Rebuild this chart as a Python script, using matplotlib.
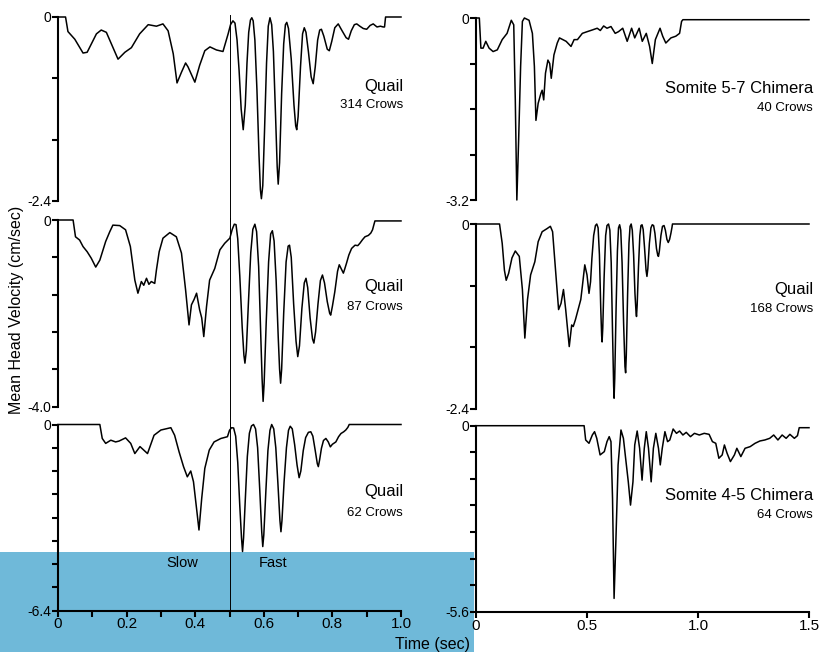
import numpy as np
import matplotlib.pyplot as plt
from matplotlib.patches import Rectangle

plt.rcParams['font.family'] = ['Liberation Sans', 'DejaVu Sans']

# ---- traces: time (sec), mean head velocity (cm/sec) ----
# left column, quail, 314 crows
q314_t = [0, 0.022, 0.029, 0.049, 0.073, 0.085, 0.112, 0.126, 0.141, 0.175, 0.195, 0.214,
          0.238, 0.263, 0.287, 0.306, 0.321, 0.336, 0.347, 0.360, 0.372, 0.379, 0.399, 0.413,
          0.428, 0.443, 0.462, 0.481, 0.496, 0.503, 0.510, 0.516, 0.522, 0.528, 0.534, 0.540,
          0.546, 0.551, 0.556, 0.561, 0.565, 0.569, 0.574, 0.580, 0.586, 0.590, 0.593, 0.597,
          0.602, 0.608, 0.613, 0.618, 0.623, 0.628, 0.634, 0.639, 0.642, 0.646, 0.652, 0.658,
          0.663, 0.667, 0.672, 0.680, 0.688, 0.693, 0.696, 0.700, 0.707, 0.713, 0.718, 0.723,
          0.730, 0.738, 0.744, 0.750, 0.757, 0.763, 0.768, 0.775, 0.785, 0.791, 0.798, 0.807,
          0.817, 0.827, 0.840, 0.847, 0.855, 0.864, 0.871, 0.880, 0.890, 0.900, 0.910, 0.919,
          0.930, 0.940, 0.948, 0.952, 0.955, 1.0]
q314_v = [0, 0, -0.19, -0.29, -0.47, -0.46, -0.22, -0.17, -0.20, -0.55, -0.46, -0.40,
          -0.22, -0.10, -0.12, -0.09, -0.18, -0.48, -0.86, -0.72, -0.60, -0.65, -0.85, -0.63,
          -0.44, -0.39, -0.43, -0.45, -0.22, -0.10, -0.05, -0.08, -0.30, -0.70, -1.20, -1.47,
          -1.15, -0.60, -0.20, -0.04, -0.01, -0.05, -0.30, -0.95, -1.80, -2.25, -2.37, -2.20,
          -1.50, -0.60, -0.12, -0.01, -0.10, -0.45, -1.25, -1.95, -2.18, -1.90, -1.00, -0.35,
          -0.10, -0.07, -0.15, -0.55, -1.15, -1.42, -1.47, -1.30, -0.65, -0.22, -0.14, -0.20,
          -0.45, -0.78, -0.87, -0.65, -0.30, -0.17, -0.16, -0.25, -0.42, -0.44, -0.32, -0.14,
          -0.09, -0.17, -0.27, -0.29, -0.18, -0.10, -0.09, -0.12, -0.15, -0.16, -0.11, -0.09,
          -0.13, -0.12, -0.13, -0.13, 0, 0]

# left column, quail, 87 crows
q87_t = [0, 0.044, 0.051, 0.063, 0.073, 0.085, 0.097, 0.110, 0.122, 0.139, 0.151, 0.160,
         0.180, 0.197, 0.211, 0.224, 0.233, 0.243, 0.250, 0.258, 0.265, 0.272, 0.282, 0.287,
         0.295, 0.306, 0.326, 0.345, 0.360, 0.372, 0.382, 0.389, 0.397, 0.404, 0.413, 0.419,
         0.425, 0.433, 0.442, 0.457, 0.472, 0.486, 0.501, 0.508, 0.514, 0.519, 0.524, 0.530,
         0.537, 0.542, 0.545, 0.549, 0.555, 0.562, 0.568, 0.574, 0.579, 0.585, 0.590, 0.595,
         0.598, 0.601, 0.607, 0.614, 0.620, 0.625, 0.630, 0.636, 0.642, 0.646, 0.649, 0.652,
         0.658, 0.665, 0.671, 0.675, 0.680, 0.687, 0.694, 0.699, 0.704, 0.711, 0.718, 0.723,
         0.728, 0.735, 0.742, 0.746, 0.751, 0.758, 0.765, 0.771, 0.777, 0.785, 0.792, 0.795,
         0.800, 0.807, 0.815, 0.820, 0.826, 0.832, 0.836, 0.841, 0.848, 0.856, 0.866, 0.874,
         0.880, 0.888, 0.895, 0.905, 0.912, 0.917, 0.921, 0.924, 1.0]
q87_v = [0, 0, -0.36, -0.43, -0.57, -0.68, -0.82, -1.01, -0.86, -0.46, -0.25, -0.11,
         -0.12, -0.21, -0.57, -1.29, -1.57, -1.32, -1.40, -1.25, -1.38, -1.32, -1.36, -1.07,
         -0.68, -0.39, -0.27, -0.36, -0.71, -1.50, -2.25, -1.82, -1.70, -1.57, -1.93, -2.10,
         -2.50, -1.86, -1.29, -1.04, -0.64, -0.50, -0.39, -0.20, -0.09, -0.10, -0.40, -1.20,
         -2.30, -2.90, -3.07, -2.80, -1.80, -0.70, -0.20, -0.09, -0.25, -1.00, -2.20, -3.40,
         -3.89, -3.50, -2.20, -0.90, -0.30, -0.23, -0.45, -1.30, -2.50, -3.20, -3.50, -3.20,
         -2.00, -0.90, -0.56, -0.54, -0.80, -1.80, -2.60, -2.93, -2.70, -1.90, -1.35, -1.25,
         -1.45, -2.10, -2.55, -2.64, -2.40, -1.80, -1.30, -1.18, -1.35, -1.75, -2.00, -2.04,
         -1.85, -1.54, -1.10, -0.96, -1.05, -1.14, -1.05, -0.93, -0.75, -0.61, -0.54, -0.55,
         -0.50, -0.42, -0.36, -0.33, -0.28, -0.21, -0.10, -0.02, -0.02]

# left column, quail, 62 crows
q62_t = [0, 0.122, 0.129, 0.139, 0.154, 0.168, 0.178, 0.197, 0.212, 0.224, 0.239, 0.261,
         0.280, 0.300, 0.329, 0.340, 0.353, 0.366, 0.377, 0.387, 0.395, 0.405, 0.411, 0.419,
         0.428, 0.441, 0.455, 0.475, 0.494, 0.500, 0.506, 0.512, 0.518, 0.524, 0.530, 0.535,
         0.538, 0.541, 0.546, 0.552, 0.558, 0.564, 0.570, 0.576, 0.582, 0.588, 0.594, 0.597,
         0.600, 0.606, 0.612, 0.618, 0.623, 0.629, 0.635, 0.641, 0.647, 0.650, 0.653, 0.659,
         0.666, 0.672, 0.677, 0.683, 0.690, 0.697, 0.703, 0.708, 0.715, 0.722, 0.730, 0.737,
         0.743, 0.750, 0.756, 0.759, 0.763, 0.768, 0.774, 0.781, 0.788, 0.794, 0.800, 0.810,
         0.818, 0.825, 0.833, 0.839, 0.845, 0.849, 1.0]
q62_v = [0, 0, -0.48, -0.65, -0.54, -0.60, -0.57, -0.46, -0.65, -1.00, -0.76, -1.00,
         -0.37, -0.19, -0.11, -0.37, -0.94, -1.45, -1.80, -1.60, -1.97, -3.00, -3.63, -2.54,
         -1.51, -0.88, -0.60, -0.48, -0.42, -0.20, -0.11, -0.12, -0.40, -1.30, -2.80, -3.90,
         -4.37, -3.90, -2.60, -1.10, -0.30, -0.05, 0, -0.15, -0.80, -2.20, -3.70, -4.20,
         -3.80, -2.30, -0.90, -0.20, 0, -0.15, -0.80, -2.00, -3.30, -3.69, -3.30, -2.00,
         -0.80, -0.20, -0.06, -0.15, -0.70, -1.40, -1.83, -1.60, -0.90, -0.45, -0.27, -0.25,
         -0.40, -0.90, -1.35, -1.45, -1.20, -0.82, -0.55, -0.48, -0.60, -0.77, -0.68, -0.60,
         -0.42, -0.31, -0.25, -0.19, -0.10, 0, 0]

# right column, somite 5-7 chimera, 40 crows
c40_t = [0, 0.015, 0.022, 0.032, 0.044, 0.059, 0.077, 0.096, 0.118, 0.140, 0.159, 0.170,
         0.177, 0.184, 0.192, 0.201, 0.209, 0.218, 0.239, 0.254, 0.263, 0.270, 0.280, 0.292,
         0.298, 0.305, 0.313, 0.324, 0.332, 0.339, 0.351, 0.366, 0.376, 0.391, 0.406, 0.428,
         0.442, 0.457, 0.479, 0.501, 0.524, 0.546, 0.560, 0.575, 0.590, 0.608, 0.627, 0.642,
         0.661, 0.681, 0.701, 0.715, 0.735, 0.749, 0.767, 0.782, 0.794, 0.808, 0.829, 0.841,
         0.855, 0.878, 0.900, 0.917, 0.926, 0.932, 1.5]
c40_v = [0, 0, -0.53, -0.53, -0.41, -0.53, -0.59, -0.56, -0.38, -0.27, -0.04, -0.12,
         -1.44, -3.20, -2.15, -0.85, -0.06, 0, -0.04, -0.27, -0.85, -1.80, -1.50, -1.33,
         -1.27, -1.44, -0.97, -0.74, -0.80, -1.06, -0.65, -0.44, -0.35, -0.38, -0.41, -0.50,
         -0.38, -0.38, -0.27, -0.24, -0.21, -0.18, -0.22, -0.14, -0.18, -0.15, -0.27, -0.24,
         -0.18, -0.41, -0.18, -0.35, -0.18, -0.41, -0.27, -0.50, -0.80, -0.38, -0.18, -0.32,
         -0.44, -0.35, -0.32, -0.27, -0.06, -0.03, -0.03]

# right column, quail, 168 crows
q168_t = [0, 0.106, 0.118, 0.128, 0.136, 0.147, 0.162, 0.177, 0.195, 0.209, 0.220, 0.232,
          0.246, 0.265, 0.280, 0.298, 0.320, 0.335, 0.345, 0.357, 0.372, 0.383, 0.394, 0.404,
          0.420, 0.431, 0.438, 0.448, 0.460, 0.472, 0.479, 0.490, 0.500, 0.509, 0.516, 0.522,
          0.530, 0.538, 0.544, 0.550, 0.556, 0.562, 0.566, 0.568, 0.571, 0.577, 0.584, 0.590,
          0.597, 0.603, 0.609, 0.615, 0.620, 0.622, 0.625, 0.631, 0.637, 0.642, 0.647, 0.652,
          0.658, 0.665, 0.671, 0.674, 0.677, 0.683, 0.689, 0.694, 0.699, 0.704, 0.710, 0.716,
          0.721, 0.723, 0.726, 0.732, 0.738, 0.743, 0.748, 0.753, 0.759, 0.766, 0.770, 0.774,
          0.781, 0.788, 0.794, 0.800, 0.806, 0.813, 0.819, 0.822, 0.826, 0.833, 0.840, 0.847,
          0.853, 0.860, 0.866, 0.872, 0.878, 0.883, 0.885, 1.5]
q168_v = [0, 0, -0.25, -0.60, -0.73, -0.64, -0.44, -0.35, -0.42, -0.85, -1.48, -0.98,
          -0.66, -0.49, -0.23, -0.10, -0.06, -0.03, -0.10, -0.55, -1.11, -1.03, -0.85, -1.11,
          -1.59, -1.31, -1.33, -1.24, -1.11, -0.98, -0.81, -0.53, -0.66, -0.90, -0.75, -0.45,
          -0.15, -0.02, 0, -0.05, -0.40, -1.10, -1.45, -1.53, -1.35, -0.70, -0.15, -0.02,
          0, -0.08, -0.50, -1.40, -2.10, -2.26, -2.00, -1.10, -0.35, -0.05, -0.01, -0.08,
          -0.50, -1.30, -1.85, -1.93, -1.70, -0.90, -0.25, -0.03, 0, -0.08, -0.40, -0.90,
          -1.15, -1.20, -1.05, -0.55, -0.15, -0.02, -0.01, -0.07, -0.30, -0.60, -0.68, -0.58,
          -0.25, -0.05, -0.01, -0.02, -0.12, -0.32, -0.41, -0.42, -0.35, -0.15, -0.03, -0.02,
          -0.08, -0.20, -0.24, -0.20, -0.12, -0.04, 0, 0]

# right column, somite 4-5 chimera, 64 crows
c64_t = [0, 0.487, 0.494, 0.509, 0.524, 0.534, 0.544, 0.559, 0.578, 0.590, 0.600, 0.608,
         0.615, 0.622, 0.630, 0.640, 0.653, 0.664, 0.674, 0.686, 0.696, 0.707, 0.715, 0.726,
         0.737, 0.748, 0.758, 0.767, 0.777, 0.789, 0.799, 0.810, 0.822, 0.830, 0.839, 0.851,
         0.863, 0.873, 0.888, 0.903, 0.917, 0.932, 0.947, 0.966, 0.984, 1.006, 1.028, 1.050,
         1.065, 1.080, 1.094, 1.109, 1.119, 1.131, 1.146, 1.164, 1.175, 1.193, 1.212, 1.235,
         1.257, 1.279, 1.301, 1.323, 1.341, 1.360, 1.379, 1.397, 1.414, 1.434, 1.448, 1.456, 1.5]
c64_v = [0, 0, -0.43, -0.53, -0.28, -0.18, -0.38, -0.88, -0.78, -0.48, -0.33, -0.48,
         -2.19, -5.20, -3.49, -1.18, -0.13, -0.38, -0.98, -1.69, -2.39, -1.69, -0.58, -0.16,
         -0.68, -1.64, -0.68, -0.18, -0.68, -1.69, -0.68, -0.23, -0.68, -1.18, -0.68, -0.18,
         -0.48, -0.43, -0.10, -0.23, -0.16, -0.28, -0.20, -0.33, -0.23, -0.28, -0.23, -0.26,
         -0.48, -0.53, -0.98, -0.88, -0.58, -0.83, -1.08, -0.88, -0.68, -0.93, -0.68, -0.63,
         -0.53, -0.46, -0.43, -0.38, -0.28, -0.43, -0.28, -0.38, -0.26, -0.38, -0.30, -0.06, -0.06]

# axis limits (bottom of each y scale) and labels
left_ymin = [-2.4, -4.0, -6.4]
right_ymin = [-3.2, -2.4, -5.6]
left_names = ['Quail', 'Quail', 'Quail']
left_counts = ['314 Crows', '87 Crows', '62 Crows']
right_names = ['Somite 5-7 Chimera', 'Quail', 'Somite 4-5 Chimera']
right_counts = ['40 Crows', '168 Crows', '64 Crows']
left_xticks = [0, 0.1, 0.2, 0.3, 0.4, 0.5, 0.6, 0.7, 0.8, 0.9, 1.0]
left_xlabels = ['0', '', '0.2', '', '0.4', '', '0.6', '', '0.8', '', '1.0']
right_xticks = [0, 0.5, 1.0, 1.5]
right_xlabels = ['0', '0.5', '1.0', '1.5']

W, H = 821, 652
fig = plt.figure(figsize=(W / 100, H / 100), dpi=100)

# blue band across the lower left of the scan (drawn under the axes)
fig.patches.append(Rectangle((0, 0), 474 / W, 100 / H, transform=fig.transFigure,
                             facecolor='#6fb9d9', edgecolor='none', zorder=-10))


def px_axes(x0, x1, y0, y1):
    # pixel box -> figure fraction
    return fig.add_axes([x0 / W, 1 - y1 / H, (x1 - x0) / W, (y1 - y0) / H])


def style(ax, ymin, xmax, bottom_axis):
    ax.set_facecolor('none')
    ax.set_ylim(ymin, 0)
    ax.set_xlim(0, xmax)
    for s in ['top', 'right']:
        ax.spines[s].set_visible(False)
    ax.spines['left'].set_linewidth(1.5)
    ticks = np.round(np.arange(0, ymin - 0.01, -0.8), 1)
    ax.set_yticks(ticks)
    ax.set_yticklabels(['0'] + [''] * (len(ticks) - 2) + ['%.1f' % ymin])
    ax.tick_params(axis='y', direction='out', length=4, width=1.5, labelsize=10, pad=1)
    if bottom_axis:
        ax.spines['bottom'].set_linewidth(1.5)
        ax.tick_params(axis='x', direction='out', length=4, width=1.5, labelsize=11, pad=1)
    else:
        ax.spines['bottom'].set_visible(False)
        ax.set_xticks([])


left_boxes = [(58, 401, 17, 201), (58, 401, 220, 406.5), (58, 401, 424.5, 610.5)]
right_boxes = [(476, 809, 18, 200), (476, 809, 224, 409), (476, 809, 425.7, 611.7)]
left_data = [(q314_t, q314_v), (q87_t, q87_v), (q62_t, q62_v)]
right_data = [(c40_t, c40_v), (q168_t, q168_v), (c64_t, c64_v)]
text_y = [(0.625, 0.522), (0.643, 0.532), (0.638, 0.522)]
rtext_y = [(0.613, 0.503), (0.647, 0.541), (0.627, 0.52)]

for i in range(3):
    ax = px_axes(*left_boxes[i])
    t, v = left_data[i]
    ax.plot(t, v, color='black', lw=1.1, clip_on=False)
    style(ax, left_ymin[i], 1.0, i == 2)
    ax.axvline(0.5, ymin=-0.11 if i < 2 else 0, ymax=1.01, color='black', lw=0.7,
               clip_on=False)
    ax.text(1.006, text_y[i][0], left_names[i], transform=ax.transAxes, ha='right',
            va='center', fontsize=12)
    ax.text(1.006, text_y[i][1], left_counts[i], transform=ax.transAxes, ha='right',
            va='center', fontsize=9.5)
    if i == 2:
        ax.set_xticks(left_xticks)
        ax.set_xticklabels(left_xlabels)
        ax.text(0.361, -4.76, 'Slow', ha='center', va='center', fontsize=10.5)
        ax.text(0.626, -4.76, 'Fast', ha='center', va='center', fontsize=10.5)

for i in range(3):
    ax = px_axes(*right_boxes[i])
    t, v = right_data[i]
    ax.plot(t, v, color='black', lw=1.1, clip_on=False)
    style(ax, right_ymin[i], 1.5, i == 2)
    ax.text(1.012, rtext_y[i][0], right_names[i], transform=ax.transAxes, ha='right',
            va='center', fontsize=12)
    ax.text(1.012, rtext_y[i][1], right_counts[i], transform=ax.transAxes, ha='right',
            va='center', fontsize=9.5)
    if i == 2:
        ax.set_xticks(right_xticks)
        ax.set_xticklabels(right_xlabels)

fig.text(17 / W, 1 - 310 / H, 'Mean Head Velocity (cm/sec)', rotation=90, ha='center',
         va='center', fontsize=11.5)
fig.text(432 / W, 1 - 645 / H, 'Time (sec)', ha='center', va='center', fontsize=11.5)

fig.savefig('out.png', dpi=100)
